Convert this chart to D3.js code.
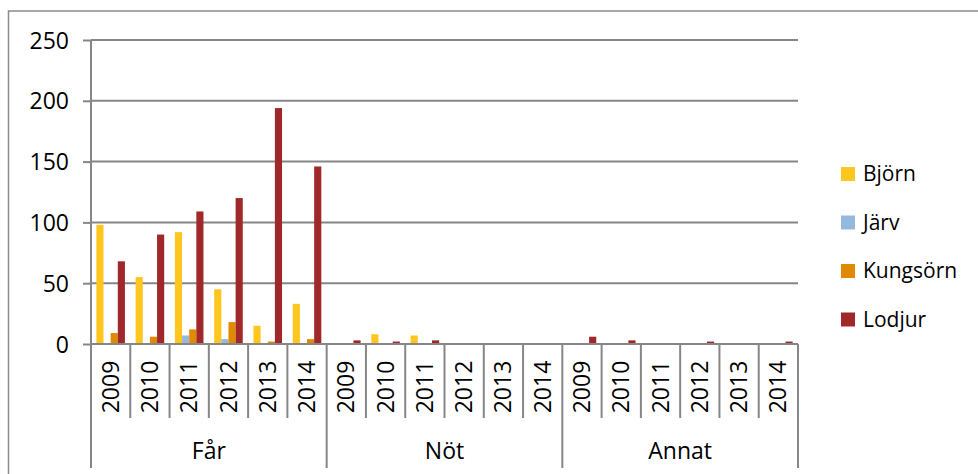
<!DOCTYPE html>
<html><head><meta charset="utf-8">
<script src="https://cdn.jsdelivr.net/npm/d3@7"></script>
<style>body{margin:0;background:#fff}svg{display:block}text{font-family:"Open Sans",sans-serif;fill:#000}</style>
</head><body>
<script>
const groups = ["Får","Nöt","Annat"];
const years = ["2009","2010","2011","2012","2013","2014"];
const seriesNames = ["Björn","Järv","Kungsörn","Lodjur"];
const colors = ["#FFC61E","#95B9DE","#E08A00","#A0282A"];
// values per category (group × year), order as groups then years
const bjorn    = [98,55,92,45,15,33,  0.5,8,7,0.4,0,0,   0,0.4,0.3,0,0,0];
const jarv     = [0,0,7,4,0,0,        0,0,0,0,0.3,0,     0,0,0,0,0,0];
const kungsorn = [9,6,12,18,2,4,      0,0,0,0.4,0,0,     0,0,0.4,0,0,0];
const lodjur   = [68,90,109,120,194,146, 3,2,3,0.4,0.5,0, 6,3,0.4,2,0.5,2];
const yTicks = [0,50,100,150,200,250];

const seriesVals = [bjorn,jarv,kungsorn,lodjur];
const cats = [];
groups.forEach(g=>years.forEach(y=>cats.push(g+"|"+y)));

const W=978,H=474;
const svg=d3.select("body").append("svg").attr("width",W).attr("height",H);
svg.append("rect").attr("x",8.5).attr("y",11).attr("width",980).attr("height",480)
  .attr("fill","none").attr("stroke","#8c8c8c").attr("stroke-width",1.5);

const x0=91,x1=798,yTop=40,yBot=344;
const x=d3.scaleBand().domain(cats).range([x0,x1]).paddingInner(0).paddingOuter(0);
const y=d3.scaleLinear().domain([0,250]).range([yBot,yTop]);
const gap=1.5/5.5;
const xs=d3.scaleBand().domain(seriesNames).range([0,x.bandwidth()]).paddingInner(0).paddingOuter(gap/2*5.5/4*0+0);
// compute bar width per Excel gap 150%
const bw=x.bandwidth()/5.5;
const xs2=d3.scaleBand().domain(seriesNames).range([x.bandwidth()*0.75/5.5, x.bandwidth()*4.75/5.5]);

// gridlines
svg.append("g").selectAll("line").data(yTicks.filter(d=>d>0)).join("line")
  .attr("x1",x0).attr("x2",x1).attr("y1",d=>y(d)).attr("y2",d=>y(d))
  .attr("stroke","#868686").attr("stroke-width",2);

// bars
seriesNames.forEach((s,si)=>{
  svg.append("g").selectAll("rect").data(cats).join("rect")
    .attr("x",c=>x(c)+xs2(s)).attr("width",xs2.bandwidth())
    .attr("y",(c,i)=>y(seriesVals[si][i])).attr("height",(c,i)=>yBot-y(seriesVals[si][i]))
    .attr("fill",colors[si]);
});

// y axis
const ya=d3.axisLeft(y).tickValues(yTicks).tickSize(8).tickPadding(14);
const gy=svg.append("g").attr("transform",`translate(${x0},0)`).call(ya);
gy.select(".domain").remove();
gy.selectAll(".tick line").attr("stroke","#868686").attr("stroke-width",2);
gy.selectAll(".tick text").style("font-size","23px").attr("dy","0.35em");
svg.append("line").attr("x1",x0).attr("x2",x0).attr("y1",yTop).attr("y2",468)
  .attr("stroke","#868686").attr("stroke-width",2);

// x axis line
svg.append("line").attr("x1",x0).attr("x2",x1).attr("y1",yBot).attr("y2",yBot)
  .attr("stroke","#868686").attr("stroke-width",2);

// category separators
const bounds=cats.map(c=>x(c)).concat([x1]);
svg.append("g").selectAll("line").data(bounds.slice(1)).join("line")
  .attr("x1",d=>d).attr("x2",d=>d).attr("y1",yBot)
  .attr("y2",(d,i)=>((i+1)%years.length===0)?468:418)
  .attr("stroke","#868686").attr("stroke-width",2);

// year labels
svg.append("g").selectAll("text").data(cats).join("text")
  .attr("transform",c=>`translate(${x(c)+x.bandwidth()/2},387) rotate(-90)`)
  .attr("text-anchor","middle").attr("dy","0.35em").style("font-size","23px")
  .text(c=>c.split("|")[1]);

// group labels
const gx=d3.scaleBand().domain(groups).range([x0,x1]);
svg.append("g").selectAll("text").data(groups).join("text")
  .attr("x",g=>gx(g)+gx.bandwidth()/2).attr("y",451).attr("dy","0.35em")
  .attr("text-anchor","middle").style("font-size","23px").text(g=>g);

// legend
const lg=svg.append("g");
seriesNames.forEach((s,i)=>{
  const yy=167+i*48.5;
  lg.append("rect").attr("x",841).attr("y",yy).attr("width",14).attr("height",14).attr("fill",colors[i]);
  lg.append("text").attr("x",863).attr("y",yy+7).attr("dy","0.35em").style("font-size","21px").text(s);
});
</script>
</body></html>
